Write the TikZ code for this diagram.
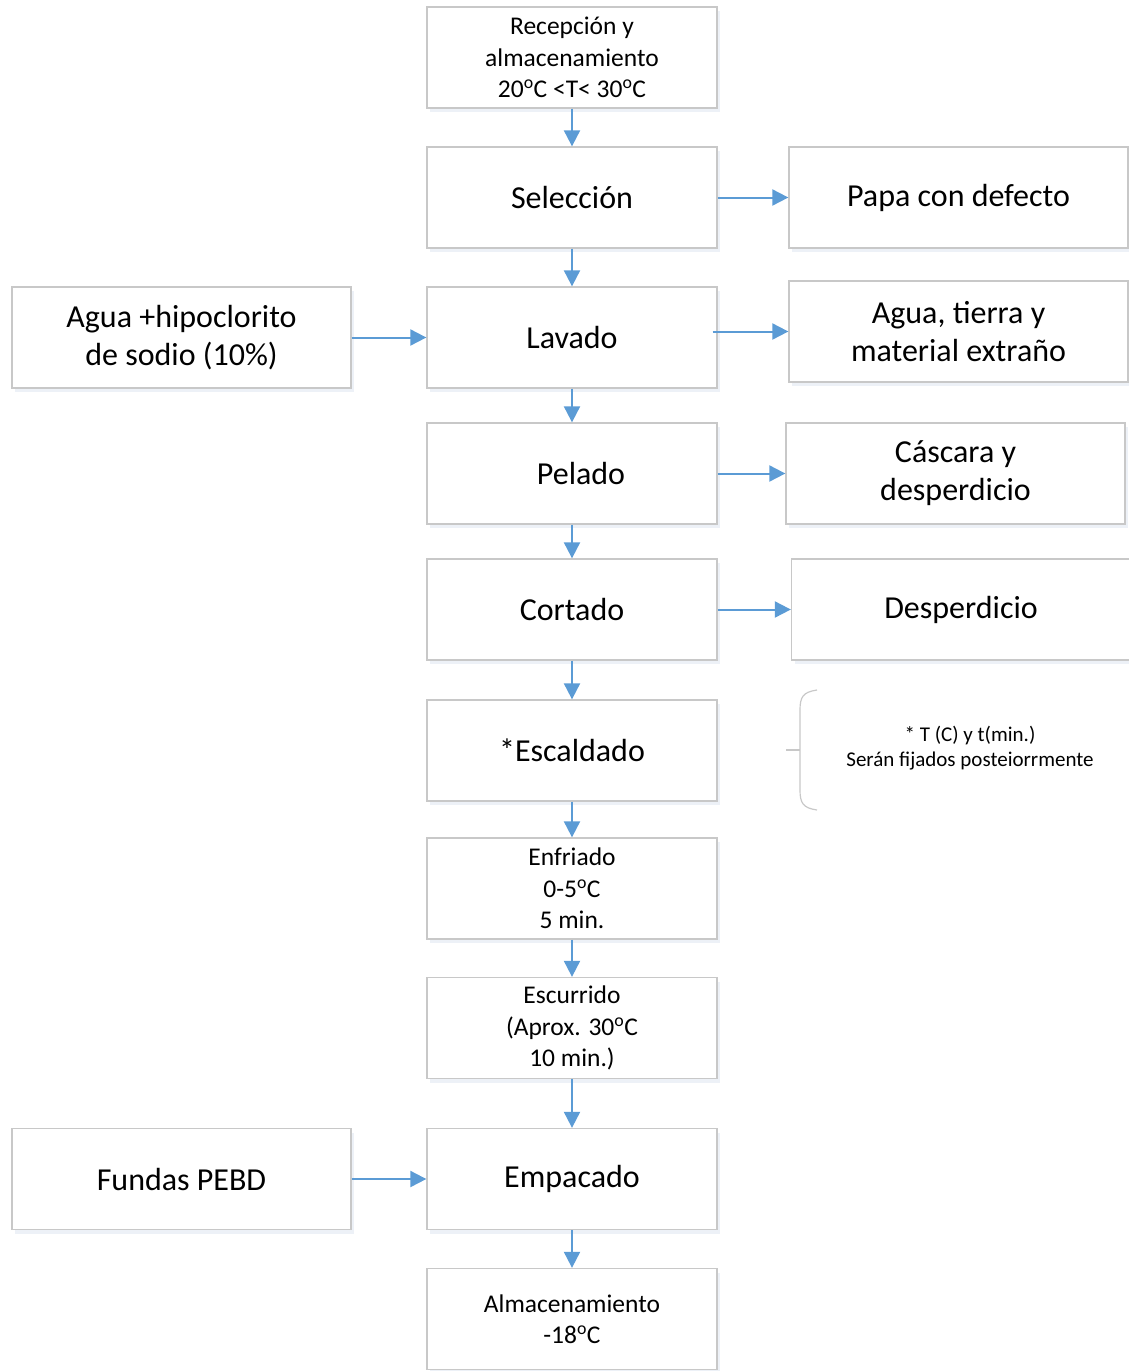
\documentclass[tikz,border=0pt]{standalone}
\usepackage{fontspec}
\setmainfont{Carlito}
\usetikzlibrary{arrows.meta,shadows}
\definecolor{boxgray}{HTML}{C8C8C8}
\definecolor{flowblue}{HTML}{5B9BD5}
\definecolor{shadowblue}{HTML}{EDF1F7}
\newcommand{\gr}{\textsuperscript{o}C}

\begin{document}
\begin{tikzpicture}[x=1pt,y=-1pt,
    stepbox/.style={draw=boxgray, line width=1.3pt, fill=white,
      minimum width=290pt, minimum height=101pt, align=center, inner sep=2pt,
      drop shadow={fill=shadowblue, opacity=1, shadow xshift=3pt, shadow yshift=-4pt}},
    sidebox/.style={stepbox, minimum width=339pt},
    big/.style={font=\fontsize{32}{38}\selectfont},
    small/.style={font=\fontsize{25.5}{31.5}\selectfont},
    flow/.style={draw=flowblue, line width=2pt, -{Triangle[length=16pt,width=16pt]}}]
  \useasboundingbox (0,0) rectangle (1129,1371);

  % main column
  \node[stepbox, small] (rec) at (572,57.5) {Recepción y\\almacenamiento\\20\gr{} <T< 30\gr};
  \node[stepbox, big] (sel) at (572,197.5) {Selección};
  \node[stepbox, big] (lav) at (572,337.5) {Lavado};
  \node[stepbox, big] (pel) at (572,473.5) {\hspace*{18pt}Pelado};
  \node[stepbox, big] (cor) at (572,609.5) {Cortado};
  \node[stepbox, big] (esca) at (572,750.5) {*Escaldado};
  \node[stepbox, small] (enf) at (572,888.5) {Enfriado\\0-5\gr\\5 min.};
  \node[stepbox, small] (escu) at (572,1028) {Escurrido\\(Aprox. 30\gr\\10 min.)};
  \node[stepbox, big] (emp) at (572,1179) {Empacado};
  \node[stepbox, small] (alm) at (572,1319) {Almacenamiento\\-18\gr};

  % side boxes
  \node[sidebox, big] (papa) at (958.5,197.5) {Papa con defecto};
  \node[sidebox, big] (tierra) at (958.5,331.5) {Agua, tierra y\\material extraño};
  \node[sidebox, big] (casc) at (955.5,473.5) {Cáscara y\\desperdicio};
  \node[sidebox, big] (desp) at (961,609.5) {Desperdicio};
  \node[sidebox, big] (hipo) at (181.5,337.5) {Agua +hipoclorito\\de sodio (10\%)};
  \node[sidebox, big] (fundas) at (181.5,1179) {Fundas PEBD};

  % note
  \draw[boxgray, line width=1.2pt] (817,690) .. controls (803,692) and (800,697) .. (800,710)
    -- (800,790) .. controls (800,803) and (803,808) .. (817,810);
  \coordinate (tick) at (786,750);
  \draw[boxgray, line width=1.2pt] (tick) -- (800,750);
  \node[font=\fontsize{21}{25}\selectfont, align=center] (note) at (970,748)
    {* T (C) y t(min.)\\Serán fijados posteiorrmente};

  % flow
  \foreach \a/\b in {rec/sel, sel/lav, lav/pel, pel/cor, cor/esca, esca/enf, enf/escu, escu/emp, emp/alm}
    \draw[flow] (\a.south) -- (\b.north);
  \draw[flow] (sel.east) -- (papa.west);
  \draw[flow] ([xshift=-5pt]lav.east |- tierra.west) -- (tierra.west);
  \draw[flow] (pel.east) -- (casc.west);
  \draw[flow] (cor.east) -- (desp.west);
  \draw[flow] (hipo.east) -- (lav.west);
  \draw[flow] (fundas.east) -- (emp.west);
\end{tikzpicture}
\end{document}
